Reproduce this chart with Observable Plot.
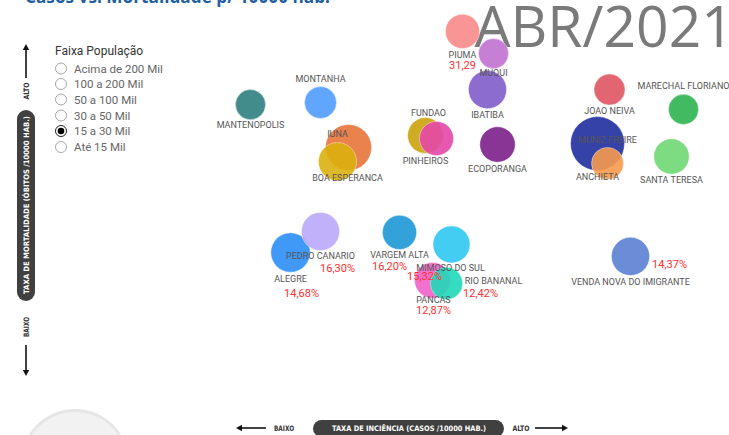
<!DOCTYPE html>
<html><head><meta charset="utf-8">
<script src="https://cdn.jsdelivr.net/npm/d3@7"></script>
<script src="https://cdn.jsdelivr.net/npm/@observablehq/plot@0.6"></script>
<style>
html,body{margin:0;padding:0;background:#fff;}
#wrap{position:relative;width:729px;height:435px;overflow:hidden;font-family:Roboto,sans-serif;}
#wrap > svg{position:absolute;left:0;top:0;overflow:visible;}
</style></head><body><div id="wrap"></div>
<script>
// ---- data (axes have no ticks, units are relative) ----
const municipios = ["MANTENOPOLIS","MONTANHA","IUNA","BOA ESPERANCA","FUNDAO","PINHEIROS","PIUMA","MUQUI","IBATIBA","ECOPORANGA","JOAO NEIVA","MARECHAL FLORIANO","MUNIZ FREIRE","ANCHIETA","SANTA TERESA","PEDRO CANARIO","ALEGRE","VARGEM ALTA","MIMOSO DO SUL","PANCAS","RIO BANANAL","VENDA NOVA DO IMIGRANTE"];
const incidencia = [4.2,18.2,23.8,21.6,39.2,41.4,46.6,52.8,51.6,53.6,76.0,90.8,73.6,75.6,88.4,18.2,12.2,34.0,44.4,40.6,43.4,80.2];
const mortalidade = [75.3,76.0,61.0,56.3,65.0,64.0,99.7,92.3,80.3,62.0,80.3,73.7,62.3,55.7,58.0,33.0,26.0,32.7,28.7,16.7,15.7,24.7];
const populacao = [31,35,73,50,44,40,40,31,50,43,33,31,100,35,43,50,53,40,47,44,36,50];
const percentuais = ["","","","","","","31,29","","","","","","","","","16,30%","14,68%","16,20%","15,32%","12,87%","12,42%","14,37%"];
const cores = ["#2f8080","#4f9cff","#e8743b","#dcb00f","#caa30c","#e447a9","#f98a8a","#c171d2","#7f5cc9","#7b1f8a","#df5562","#2eb350","#1f2f9e","#f79a4e","#6fd873","#b9a8f9","#2b8ef5","#1e98d6","#30c8f1","#f063c9","#1fd8b8","#5b7fd1"];
// label placement (pixel offsets from bubble centre)
const nomeDx = [0,0,-11,10,3,-11,0,0,0,0,0,0,10,-10,0,0,0,0,-1,1,47,0];
const nomeDy = [21,-23,-13,17,-22,23,24,20,26,25,22,-23,-3,14,24,25,27,23,24,20,-2,26];
const pctDx = [0,0,0,0,0,0,0,0,0,0,0,0,0,0,0,17,11,-10,-27,1,34,39];
const pctDy = [0,0,0,0,0,0,34,0,0,0,0,0,0,0,0,37,41,34,32,30,10,8];
const ordem = [0,1,2,3,4,5,6,7,8,9,10,11,12,13,14,15,16,17,18,19,20,21];

const faixas = ["Acima de 200 Mil","100 a 200 Mil","50 a 100 Mil","30 a 50 Mil","15 a 30 Mil","Até 15 Mil"];
const faixaSelecionada = "15 a 30 Mil";
const legendaTitulo = "Faixa População";
const periodo = "ABR/2021";
const titulo = "Casos vs. Mortalidade p/ 10000 hab.";
const eixoX = "TAXA DE INCIÊNCIA (CASOS /10000 HAB.)";
const eixoY = "TAXA DE MORTALIDADE (ÓBITOS /10000 HAB.)";
const baixo = "BAIXO", alto = "ALTO";

const dados = ordem.map(i => ({nome: municipios[i], inc: incidencia[i], mort: mortalidade[i], pop: populacao[i], pct: percentuais[i], cor: cores[i], i}));

const wrap = document.getElementById("wrap");

const marks = [
  Plot.text([periodo], {frameAnchor: "top-left", dx: 474, dy: 46, lineAnchor: "bottom", textAnchor: "start",
    fontSize: 57, fill: "#7a7a7a", fontFamily: "'Open Sans', sans-serif"}),
  Plot.dot(dados, {x: "inc", y: "mort", r: "pop", fill: "cor", fillOpacity: 0.9, stroke: "#ffffff", strokeOpacity: 0.5, strokeWidth: 0.8}),
];
dados.forEach(d => {
  marks.push(Plot.text([d], {x: "inc", y: "mort", text: "nome", dx: nomeDx[d.i], dy: nomeDy[d.i],
    fontSize: 9, fill: "#555", fontFamily: "Roboto, sans-serif"}));
  if (d.pct) marks.push(Plot.text([d], {x: "inc", y: "mort", text: "pct", dx: pctDx[d.i], dy: pctDy[d.i],
    fontSize: 11, fill: "#ff3030", fontFamily: "Roboto, sans-serif"}));
});

const chart = Plot.plot({
  width: 729, height: 435, margin: 0,
  style: {background: "transparent", overflow: "visible"},
  x: {domain: [0, 100], range: [229, 729], axis: null},
  y: {domain: [0, 100], range: [330, 30], axis: null},
  r: {type: "sqrt", domain: [0, 100], range: [0, 27]},
  color: {type: "identity"},
  marks
});
wrap.appendChild(chart);

// ---- decorations: title, slicer, axis pills ----
const deco = d3.select(wrap).append("svg").attr("width", 729).attr("height", 435);
deco.append("text").attr("x", 25).attr("y", 3).attr("font-size", 18).attr("font-weight", "bold")
  .attr("fill", "#1f5fa0").attr("font-family", "'Open Sans', sans-serif")
  .attr("textLength", 305).attr("lengthAdjust", "spacingAndGlyphs").text(titulo);

// play-axis button (bottom-left)
deco.append("circle").attr("cx", 75).attr("cy", 463).attr("r", 54).attr("fill", "#e6e6e6");
deco.append("circle").attr("cx", 75).attr("cy", 464).attr("r", 52).attr("fill", "#f2f2f2");

// slicer
deco.append("text").attr("x", 55).attr("y", 55).attr("font-size", 12).attr("fill", "#333")
  .attr("font-family", "Roboto, sans-serif").text(legendaTitulo);
const ys = [68.5, 84, 99.5, 115.5, 131, 147];
faixas.forEach((f, k) => {
  const sel = f === faixaSelecionada;
  deco.append("circle").attr("cx", 61).attr("cy", ys[k]).attr("r", 5.5).attr("fill", "#fff")
    .attr("stroke", sel ? "#222" : "#a8a8a8").attr("stroke-width", 1);
  if (sel) deco.append("circle").attr("cx", 61).attr("cy", ys[k]).attr("r", 3.3).attr("fill", "#000");
  deco.append("text").attr("x", 74).attr("y", ys[k] + 4).attr("font-size", 11.5).attr("fill", "#666")
    .attr("font-family", "Roboto, sans-serif").text(f);
});

function arrow(x1, y1, x2, y2) {
  const a = Math.atan2(y2 - y1, x2 - x1), h = 6, w = 3.2;
  deco.append("line").attr("x1", x1).attr("y1", y1).attr("x2", x2 - Math.cos(a) * 3).attr("y2", y2 - Math.sin(a) * 3)
    .attr("stroke", "#111").attr("stroke-width", 1.6);
  const bx = x2 - Math.cos(a) * h, by = y2 - Math.sin(a) * h;
  deco.append("polygon").attr("points",
    `${x2},${y2} ${bx - Math.sin(a) * w},${by + Math.cos(a) * w} ${bx + Math.sin(a) * w},${by - Math.cos(a) * w}`)
    .attr("fill", "#111");
}
function smallLabel(x, y, txt, rot, len) {
  deco.append("text").attr("transform", `translate(${x},${y}) rotate(${rot})`).attr("text-anchor", "middle")
    .attr("dy", "0.35em").attr("font-size", 7.5).attr("font-weight", "bold").attr("fill", "#333")
    .attr("font-family", "'DejaVu Sans Condensed', sans-serif")
    .attr("textLength", len).attr("lengthAdjust", "spacingAndGlyphs").text(txt);
}
// vertical axis
arrow(26, 78, 26, 44);
smallLabel(26, 91, alto, -90, 17);
deco.append("rect").attr("x", 17).attr("y", 110).attr("width", 18).attr("height", 191).attr("rx", 9).attr("fill", "#404040");
deco.append("text").attr("transform", "translate(26,205) rotate(-90)").attr("text-anchor", "middle").attr("dy", "0.35em")
  .attr("font-size", 7.5).attr("font-weight", "bold").attr("fill", "#fff")
  .attr("font-family", "'DejaVu Sans Condensed', sans-serif")
  .attr("textLength", 178).attr("lengthAdjust", "spacingAndGlyphs").text(eixoY);
smallLabel(26, 327, baixo, -90, 20);
arrow(26, 345, 26, 376);
// horizontal axis
arrow(266, 428, 236, 428);
smallLabel(284, 428, baixo, 0, 20);
deco.append("rect").attr("x", 313).attr("y", 420).attr("width", 191).attr("height", 17).attr("rx", 8.5).attr("fill", "#404040");
deco.append("text").attr("x", 409).attr("y", 428.5).attr("text-anchor", "middle").attr("dy", "0.35em")
  .attr("font-size", 7.5).attr("font-weight", "bold").attr("fill", "#fff")
  .attr("font-family", "'DejaVu Sans Condensed', sans-serif")
  .attr("textLength", 154).attr("lengthAdjust", "spacingAndGlyphs").text(eixoX);
smallLabel(521, 428, alto, 0, 17);
arrow(535, 428, 568, 428);
</script></body></html>
